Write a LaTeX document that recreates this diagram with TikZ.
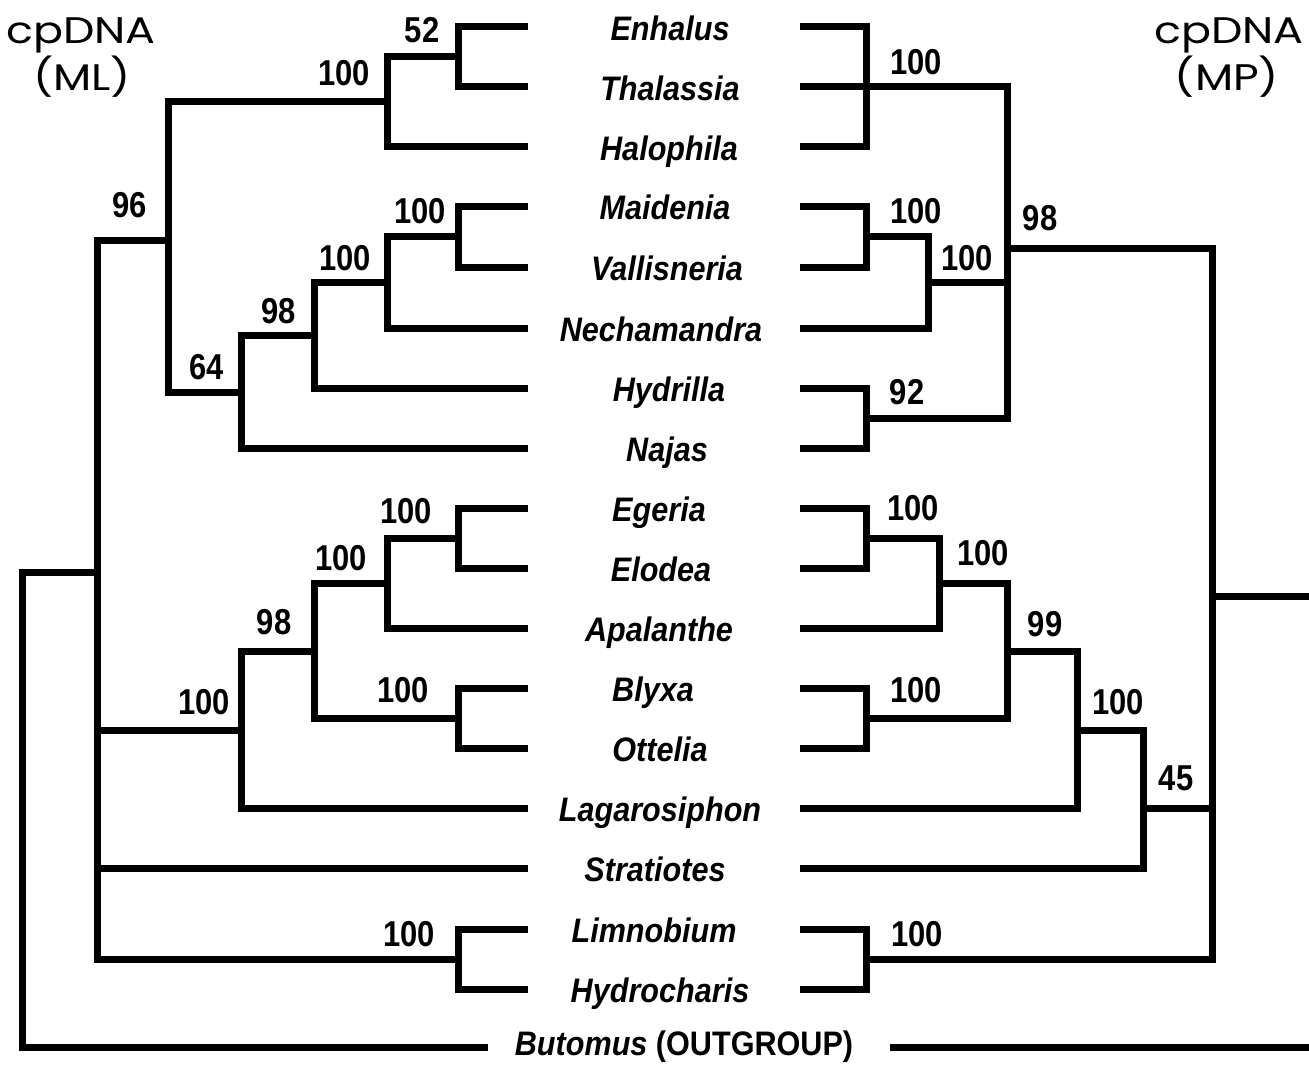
\documentclass[tikz,border=0pt]{standalone}
\usepackage{fontspec}
\setmainfont{Liberation Sans}
\newfontfamily\geo[FakeStretch=1.2]{Poppins}
\newfontfamily\narrowtx[FakeStretch=0.9]{Liberation Sans}
\newfontfamily\narrownum[FakeStretch=0.86]{Liberation Sans}
\begin{document}
\begin{tikzpicture}[x=0.5pt,y=-0.5pt,
  br/.style={line width=3.5pt, line join=miter, line cap=butt},
  taxon/.style={font=\narrowtx\fontsize{17pt}{18pt}\selectfont\bfseries\itshape, anchor=base, inner sep=0pt},
  bs/.style={font=\narrownum\fontsize{18pt}{19pt}\selectfont\bfseries, inner sep=0pt, anchor=center},
  ttl/.style={font=\geo\fontsize{18.5pt}{19pt}\selectfont, inner sep=0pt, anchor=center}]
\useasboundingbox (0,0) rectangle (1309,1064);

% titles
\node[ttl] (tML1) at (81,35) {cpDNA};
\node[ttl] (tML2) at (82,77) {(ML)};
\node[ttl] (tMP1) at (1229,35) {cpDNA};
\node[ttl] (tMP2) at (1227,77) {(MP)};

% taxa
\node[taxon] (Enh) at (670,41) {Enhalus};
\node[taxon] (Tha) at (670,101) {Thalassia};
\node[taxon] (Hal) at (669,161) {Halophila};
\node[taxon] (Mai) at (665,220) {Maidenia};
\node[taxon] (Val) at (667,280) {Vallisneria};
\node[taxon] (Nec) at (661,341) {Nechamandra};
\node[taxon] (Hyd) at (669,401) {Hydrilla};
\node[taxon] (Naj) at (667,461) {Najas};
\node[taxon] (Ege) at (659,521) {Egeria};
\node[taxon] (Elo) at (661,581) {Elodea};
\node[taxon] (Apa) at (659,641) {Apalanthe};
\node[taxon] (Bly) at (653,701) {Blyxa};
\node[taxon] (Ott) at (660,761) {Ottelia};
\node[taxon] (Lag) at (660,821) {Lagarosiphon};
\node[taxon] (Str) at (655,881) {Stratiotes};
\node[taxon] (Lim) at (654,942) {Limnobium};
\node[taxon] (Hyc) at (660,1002) {Hydrocharis};
\node[taxon] (But) at (684,1055) {Butomus \upshape(OUTGROUP)};

% left tips
\coordinate (lEnh) at (528,27);
\coordinate (lTha) at (528,87);
\coordinate (lHal) at (528,147);
\coordinate (lMai) at (528,206);
\coordinate (lVal) at (528,267);
\coordinate (lNec) at (528,328);
\coordinate (lHyd) at (528,388);
\coordinate (lNaj) at (528,448);
\coordinate (lEge) at (528,508);
\coordinate (lElo) at (528,568);
\coordinate (lApa) at (528,628);
\coordinate (lBly) at (528,688);
\coordinate (lOtt) at (528,748);
\coordinate (lLag) at (528,808);
\coordinate (lStr) at (528,868);
\coordinate (lLim) at (528,929);
\coordinate (lHyc) at (528,989);
\coordinate (lBut) at (488,1047);

% left internal nodes
\coordinate (n52) at (458,57);
\coordinate (n100a) at (387,102);
\coordinate (nMV) at (458,236);
\coordinate (nMVN) at (387,282);
\coordinate (n98a) at (314,335);
\coordinate (n64) at (241,392);
\coordinate (n96) at (168,240);
\coordinate (nEE) at (458,538);
\coordinate (nEEA) at (387,583);
\coordinate (nBO) at (458,718);
\coordinate (n98b) at (314,651);
\coordinate (nLag) at (241,730);
\coordinate (nLH) at (458,959);
\coordinate (nPoly) at (97,572);
\coordinate (nRoot) at (22,800);

\draw[br] (lEnh) -| (n52) |- (lTha);
\draw[br] (n52) -| (n100a) |- (lHal);
\draw[br] (lMai) -| (nMV) |- (lVal);
\draw[br] (nMV) -| (nMVN) |- (lNec);
\draw[br] (nMVN) -| (n98a) |- (lHyd);
\draw[br] (n98a) -| (n64) |- (lNaj);
\draw[br] (n100a) -| (n96) |- (n64);
\draw[br] (lEge) -| (nEE) |- (lElo);
\draw[br] (nEE) -| (nEEA) |- (lApa);
\draw[br] (lBly) -| (nBO) |- (lOtt);
\draw[br] (nEEA) -| (n98b) |- (nBO);
\draw[br] (n98b) -| (nLag) |- (lLag);
\draw[br] (lLim) -| (nLH) |- (lHyc);
\draw[br] (n96) -| (nPoly) |- (nLH);
\draw[br] (nPoly |- nLag) -- (nLag);
\draw[br] (nPoly |- lStr) -- (lStr);
\draw[br] (nPoly) -| (nRoot) |- (lBut);

% left support values
\node[bs] (b52) at (422,30) {52};
\node[bs] (b100a) at (344,73) {100};
\node[bs] (b96) at (130,205) {96};
\node[bs] (bMV) at (420,211) {100};
\node[bs] (bMVN) at (345,258) {100};
\node[bs] (b98a) at (279,311) {98};
\node[bs] (b64) at (207,367) {64};
\node[bs] (bEE) at (406,511) {100};
\node[bs] (bEEA) at (341,558) {100};
\node[bs] (b98b) at (274,622) {98};
\node[bs] (bBO) at (403,690) {100};
\node[bs] (bLag) at (204,702) {100};
\node[bs] (bLH) at (409,934) {100};

% right tips
\coordinate (rEnh) at (800,27);
\coordinate (rTha) at (800,87);
\coordinate (rHal) at (800,147);
\coordinate (rMai) at (800,206);
\coordinate (rVal) at (800,267);
\coordinate (rNec) at (800,328);
\coordinate (rHyd) at (800,388);
\coordinate (rNaj) at (800,448);
\coordinate (rEge) at (800,508);
\coordinate (rElo) at (800,568);
\coordinate (rApa) at (800,628);
\coordinate (rBly) at (800,688);
\coordinate (rOtt) at (800,748);
\coordinate (rLag) at (800,808);
\coordinate (rStr) at (800,868);
\coordinate (rLim) at (800,929);
\coordinate (rHyc) at (800,989);
\coordinate (rBut) at (890,1047);
\coordinate (rEndBut) at (1309,1047);
\coordinate (rEnd) at (1309,596);

% right internal nodes
\coordinate (rP1) at (866,87);
\coordinate (rMV) at (866,236);
\coordinate (rMVN) at (928,282);
\coordinate (rHN) at (866,418);
\coordinate (r98) at (1007,248);
\coordinate (rEE) at (866,538);
\coordinate (rEEA) at (939,583);
\coordinate (rBO) at (866,718);
\coordinate (r99) at (1007,651);
\coordinate (rLg) at (1077,730);
\coordinate (rSt) at (1143,808);
\coordinate (rLH) at (866,959);
\coordinate (rRoot) at (1212,596);

\draw[br] (rEnh) -| (rP1) |- (rHal);
\draw[br] (rTha) -- (rP1);
\draw[br] (rMai) -| (rMV) |- (rVal);
\draw[br] (rMV) -| (rMVN) |- (rNec);
\draw[br] (rHyd) -| (rHN) |- (rNaj);
\draw[br] (rP1) -| (r98) |- (rHN);
\draw[br] (rMVN) -- (r98 |- rMVN);
\draw[br] (rEge) -| (rEE) |- (rElo);
\draw[br] (rEE) -| (rEEA) |- (rApa);
\draw[br] (rBly) -| (rBO) |- (rOtt);
\draw[br] (rEEA) -| (r99) |- (rBO);
\draw[br] (r99) -| (rLg) |- (rLag);
\draw[br] (rLg) -| (rSt) |- (rStr);
\draw[br] (rLim) -| (rLH) |- (rHyc);
\draw[br] (r98) -| (rRoot) |- (rLH);
\draw[br] (rSt) -- (rRoot |- rSt);
\draw[br] (rRoot) -- (rEnd);
\draw[br] (rBut) -- (rEndBut);

% right support values
\node[bs] (c100a) at (916,62) {100};
\node[bs] (cMV) at (916,211) {100};
\node[bs] (cMVN) at (967,258) {100};
\node[bs] (c92) at (907,392) {92};
\node[bs] (c98) at (1040,218) {98};
\node[bs] (cEE) at (913,508) {100};
\node[bs] (cEEA) at (983,553) {100};
\node[bs] (cBO) at (916,690) {100};
\node[bs] (c99) at (1045,624) {99};
\node[bs] (cLg) at (1118,702) {100};
\node[bs] (c45) at (1176,778) {45};
\node[bs] (cLH) at (917,934) {100};
\end{tikzpicture}
\end{document}
